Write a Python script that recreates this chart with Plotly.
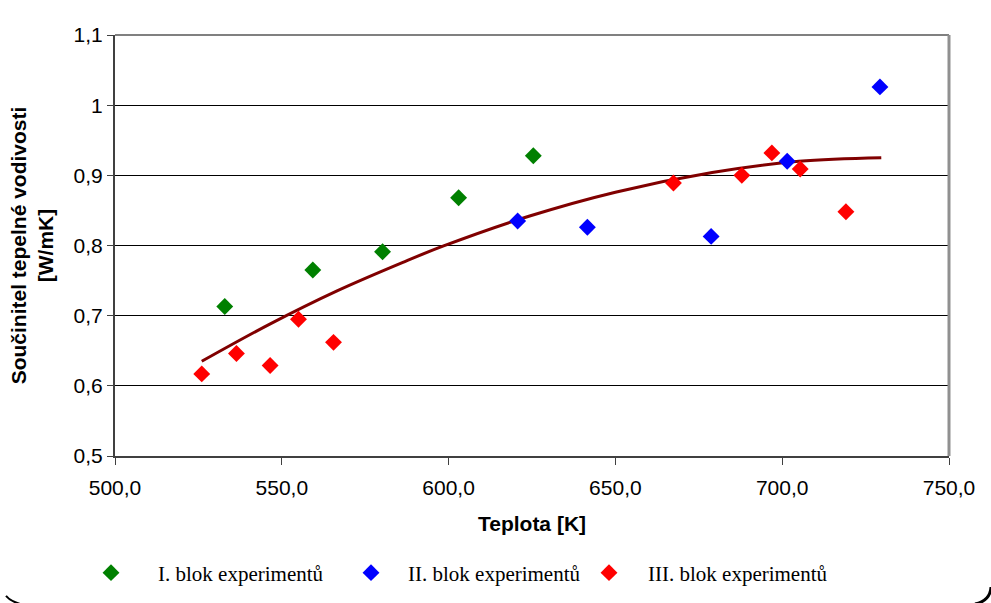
import plotly.graph_objects as go

# ---- data ----
t_block1 = [532.9, 559.3, 580.2, 603.0, 625.4]
k_block1 = [0.713, 0.765, 0.791, 0.868, 0.928]

t_block2 = [620.7, 641.6, 678.7, 701.5, 729.3]
k_block2 = [0.835, 0.826, 0.813, 0.920, 1.026]

t_block3 = [526.0, 536.4, 546.5, 555.0, 565.5, 667.4, 687.9, 696.9, 705.4, 719.1]
k_block3 = [0.617, 0.646, 0.629, 0.695, 0.662, 0.889, 0.900, 0.932, 0.909, 0.848]

# polynomial trendline
t_trend = [526.0, 546.4, 566.4, 586.3, 598.3, 624.3, 650.0, 679.0, 705.0, 729.7]
k_trend = [0.635, 0.688, 0.735, 0.776, 0.799, 0.842, 0.876, 0.904, 0.920, 0.925]

names = ["I. blok experimentů", "II. blok experimentů", "III. blok experimentů"]
colors = ["#008000", "#0000FF", "#FF0000"]

x_ticks = [500, 550, 600, 650, 700, 750]
y_ticks = [0.5, 0.6, 0.7, 0.8, 0.9, 1.0, 1.1]

SANS = "Liberation Sans, Arial, sans-serif"
SERIF = "Liberation Serif, Times New Roman, serif"
FS = 21

fig = go.Figure()

fig.add_trace(go.Scatter(
    x=t_trend, y=k_trend, mode="lines", line=dict(color="#800000", width=3, shape="spline"),
    showlegend=False, hoverinfo="skip"))

for tx, ky, nm, col, lg in zip([t_block1, t_block2, t_block3], [k_block1, k_block2, k_block3],
                               names, colors, ["legend", "legend2", "legend3"]):
    fig.add_trace(go.Scatter(
        x=tx, y=ky, mode="markers", name=nm, legend=lg,
        marker=dict(symbol="diamond", size=13, color=col, line=dict(width=0))))

W, H = 991, 603
L, R, T, B = 115, 42, 35, 147

def px_x(p):
    return (p - L) / (W - L - R)

def px_y(p):
    return (H - B - p) / (H - T - B)

def leg(start_px, itemw):
    return dict(orientation="h", xref="container", yref="container",
                x=start_px / W, y=1 - 573 / H, xanchor="left", yanchor="middle",
                font=dict(family=SERIF, size=FS, color="black"),
                itemwidth=itemw, bgcolor="rgba(0,0,0,0)", borderwidth=0)

corner_r = "M {:.4f},{:.4f} Q {:.4f},{:.4f} {:.4f},{:.4f}".format(
    px_x(991), px_y(587), px_x(990), px_y(601), px_x(975), px_y(604))
corner_l = "M {:.4f},{:.4f} Q {:.4f},{:.4f} {:.4f},{:.4f}".format(
    px_x(6), px_y(596), px_x(10), px_y(601), px_x(20), px_y(604))

fig.update_layout(
    width=W, height=H,
    margin=dict(l=L, r=R, t=T, b=B, autoexpand=False),
    paper_bgcolor="white", plot_bgcolor="white",
    separators=", ",
    font=dict(family=SANS, size=FS, color="black"),
    xaxis=dict(range=[500, 750], tickvals=x_ticks, tickformat=".1f",
               ticks="outside", ticklen=7, tickcolor="#404040", tickwidth=1,
               ticklabelstandoff=5,
               showline=True, linecolor="#404040", linewidth=2,
               showgrid=False, zeroline=False, automargin=False,
               tickfont=dict(family=SANS, size=FS, color="black"),
               title=dict(text="Teplota [K]", standoff=18,
                          font=dict(family=SANS, size=FS, color="black", weight="bold"))),
    yaxis=dict(range=[0.5, 1.1], tickvals=y_ticks,
               ticks="outside", ticklen=6, tickcolor="#404040", tickwidth=1,
               showline=True, linecolor="#404040", linewidth=2,
               showgrid=True, gridcolor="#000000", gridwidth=1, zeroline=False,
               automargin=False,
               tickfont=dict(family=SANS, size=FS, color="black"),
               title=dict(text="Součinitel tepelné vodivosti<br>[W/mK]", standoff=14,
                          font=dict(family=SANS, size=FS, color="black", weight="bold"))),
    legend=leg(111 - 47, 84),
    legend2=leg(371 - 37, 64),
    legend3=leg(609 - 39, 68),
    shapes=[
        dict(type="line", xref="paper", yref="paper", x0=0, x1=1, y0=1, y1=1,
             line=dict(color="#808080", width=2)),
        dict(type="line", xref="paper", yref="paper", x0=1, x1=1, y0=0, y1=1,
             line=dict(color="#909090", width=3)),
        dict(type="path", xref="paper", yref="paper", path=corner_r,
             line=dict(color="black", width=3)),
        dict(type="path", xref="paper", yref="paper", path=corner_l,
             line=dict(color="black", width=2)),
    ],
)

fig.write_html("out.html", config={"displayModeBar": False},
               post_script="document.body.style.margin='0';document.body.style.overflow='hidden';")
